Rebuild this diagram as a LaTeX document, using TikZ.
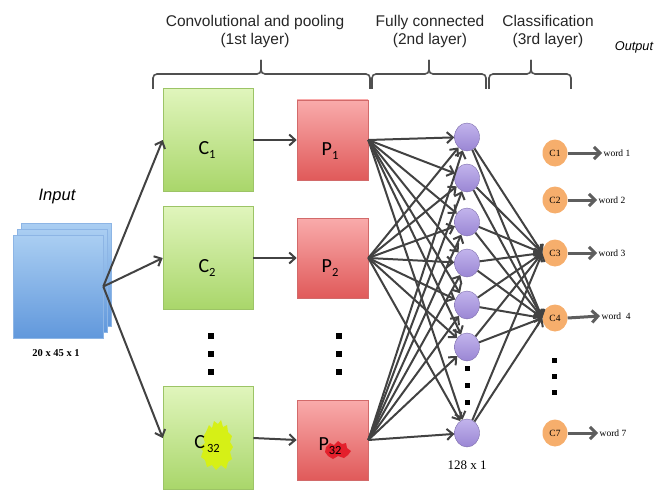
\documentclass[tikz,border=0pt]{standalone}
\usepackage{fontspec}
\setmainfont{Liberation Serif}
\setsansfont{Liberation Sans}
\newfontfamily\boxfont{Carlito}
\usetikzlibrary{arrows.meta,shapes.geometric}

\definecolor{wiregray}{HTML}{424242}
\definecolor{bracegray}{HTML}{505050}
\definecolor{greentop}{HTML}{E0F5BC}
\definecolor{greenbot}{HTML}{A9D66A}
\definecolor{greenrim}{HTML}{9CC466}
\definecolor{redtop}{HTML}{F9ABAB}
\definecolor{redbot}{HTML}{E05A5A}
\definecolor{redrim}{HTML}{D26A6A}
\definecolor{bluetop}{HTML}{AACEF2}
\definecolor{bluebot}{HTML}{6198DC}
\definecolor{bluerim}{HTML}{8DB5E5}
\definecolor{purptop}{HTML}{C2B4EC}
\definecolor{purpbot}{HTML}{9A86D4}
\definecolor{orangefill}{HTML}{F6AE6C}
\definecolor{scribyellow}{HTML}{D6F016}
\definecolor{scribred}{HTML}{E4202C}

\begin{document}
\begin{tikzpicture}[x=1pt,y=-1pt,
  hdr/.style={font=\sffamily\fontsize{15.5}{18}\selectfont, text=black!85, align=center},
  convbox/.style={draw=greenrim, line width=0.6pt, top color=greentop, bottom color=greenbot,
    minimum width=90pt, minimum height=103pt, inner sep=0pt},
  poolbox/.style={draw=redrim, line width=0.6pt, top color=redtop, bottom color=redbot,
    minimum width=71pt, minimum height=80pt, inner sep=0pt},
  inbox/.style={draw=bluerim, line width=0.6pt, top color=bluetop, bottom color=bluebot},
  boxlbl/.style={font=\boxfont\fontsize{20}{22}\selectfont, anchor=base, inner sep=0pt},
  hidden/.style={ellipse, draw=purpbot!80!black, line width=0.4pt, top color=purptop, bottom color=purpbot,
    minimum width=25pt, minimum height=28pt, inner sep=0pt},
  outnode/.style={ellipse, fill=orangefill, minimum width=25pt, minimum height=27pt, inner sep=0pt,
    font=\rmfamily\fontsize{9.5}{10}\selectfont},
  wordlbl/.style={font=\rmfamily\fontsize{9.5}{11}\selectfont, anchor=west, inner sep=1.5pt},
  wire/.style={draw=wiregray, line width=2pt, -{Straight Barb[length=6pt,width=11pt]}},
  outwire/.style={draw=wiregray!85, line width=3pt, -{Straight Barb[length=6pt,width=12pt]}},
  bracket/.style={draw=bracegray, line width=1.6pt, rounded corners=4pt},
  dotmark/.style={fill=black}
]
\useasboundingbox (0,0) rectangle (658,492);

% ---- headings and brackets
\node[hdr] (t1) at (255,31) {Convolutional and pooling\\(1st layer)};
\node[hdr] (t2) at (430,31) {Fully connected\\(2nd layer)};
\node[hdr] (t3) at (548,31) {Classification\\(3rd layer)};
\node[font=\sffamily\itshape\fontsize{12.7}{14}\selectfont] (outtitle) at (634,47) {Output};

\draw[bracket] (153,89) -- (153,74) -- (261,74) -- (261,60);
\draw[bracket] (370,89) -- (370,74) -- (261,74) -- (261,60);
\draw[bracket] (372,89) -- (372,74) -- (429,74) -- (429,60);
\draw[bracket] (486,89) -- (486,74) -- (429,74) -- (429,60);
\draw[bracket] (489,89) -- (489,74) -- (531,74) -- (531,60);
\draw[bracket] (571,89) -- (571,74) -- (531,74) -- (531,60);

% ---- input stack
\node[font=\sffamily\itshape\fontsize{16.5}{18}\selectfont] (intitle) at (57,197) {Input};
\draw[inbox] (21,223) rectangle (111,326);
\draw[inbox] (17,229) rectangle (107,332);
\node[inbox, minimum width=90pt, minimum height=103pt, inner sep=0pt] (inp) at (58,286.5) {};
\node[font=\rmfamily\bfseries\fontsize{10.5}{12}\selectfont] (insize) at (56,353) {20 x 45 x 1};

% ---- convolution and pooling maps
\node[convbox] (c1) at (208,140) {};
\node[convbox] (c2) at (208,258) {};
\node[convbox] (c32) at (208,438) {};
\node[poolbox] (p1) at (332.5,140) {};
\node[poolbox] (p2) at (332.5,258) {};
\node[poolbox] (p32) at (332.5,440) {};

% scribbled highlights behind the 32 subscripts
\fill[scribyellow] (206,432) -- (209,425) -- (212,428) -- (214,421) -- (218,424) -- (221,420)
  -- (223,427) -- (227,425) -- (228,432) -- (232,436) -- (230,442) -- (233,447) -- (230,452)
  -- (232,459) -- (228,462) -- (226,469) -- (221,465) -- (216,470) -- (212,465) -- (207,467)
  -- (205,460) -- (201,457) -- (203,451) -- (200,447) -- (205,443) -- (203,437) -- cycle;
\fill[scribred] (326,447) -- (330,443) -- (334,445) -- (338,441) -- (342,444) -- (346,443)
  -- (347,448) -- (351,451) -- (348,455) -- (344,458) -- (338,456) -- (333,459) -- (328,456)
  -- (325,452) -- cycle;

\node[boxlbl] (c1t) at (207,154) {C\raisebox{-4pt}{\fontsize{12.5}{13}\selectfont 1}};
\node[boxlbl] (c2t) at (207,272) {C\raisebox{-4pt}{\fontsize{12.5}{13}\selectfont 2}};
\node[boxlbl] (c32t) at (207,448) {C\raisebox{-4pt}{\fontsize{12.5}{13}\selectfont\,32}};
\node[boxlbl] (p1t) at (330,155) {P\raisebox{-4pt}{\fontsize{12.5}{13}\selectfont 1}};
\node[boxlbl] (p2t) at (330,272) {P\raisebox{-4pt}{\fontsize{12.5}{13}\selectfont 2}};
\node[boxlbl] (p32t) at (330,450) {P\raisebox{-4pt}{\fontsize{12.5}{13}\selectfont 32}};

\foreach \y in {333,351,369} {
  \fill[dotmark] (208,\y) rectangle ++(6,6);
  \fill[dotmark] (336,\y) rectangle ++(6,6);
}

% ---- fully connected layer
\foreach \i/\y in {1/137,2/178,3/222,4/263,5/305,6/347,7/433}
  \node[hidden] (h\i) at (467,\y) {};
\foreach \y in {366,383,400}
  \fill[dotmark] (465,\y) rectangle ++(5,5);
\node[font=\rmfamily\fontsize{13}{14}\selectfont] (hsize) at (467,465) {128 x 1};

% ---- classification layer
\node[outnode] (o1) at (555,153) {C1};
\node[outnode] (o2) at (555,200) {C2};
\node[outnode] (o3) at (555,253) {C3};
\node[outnode] (o4) at (555,318) {C4};
\node[outnode] (o7) at (555,433) {C7};
\foreach \y in {358,374,390}
  \fill[dotmark] (552,\y) rectangle ++(5,5);

\node[wordlbl] (w1) at (602,153) {word 1};
\node[wordlbl] (w2) at (597,200) {word 2};
\node[wordlbl] (w3) at (597,253) {word 3};
\node[wordlbl] (w4) at (600,316) {word\ \ 4};
\node[wordlbl] (w7) at (598,433) {word 7};

% ---- connectors
\draw[wire] (inp.east) -- (c1.west);
\draw[wire] (inp.east) -- (c2.west);
\draw[wire] (inp.east) -- (c32.west);
\draw[wire] (c1.east) -- (p1.west);
\draw[wire] (c2.east) -- (p2.west);
\draw[wire] (c32.east) -- (p32.west);

\foreach \p in {p1,p2,p32}
  \foreach \i in {1,...,7}
    \draw[wire] (\p.east) -- (h\i);

\foreach \i in {1,...,7} {
  \draw[wire] (h\i) -- (o3.west);
  \draw[wire] (h\i) -- (o4.west);
}

\draw[outwire] (o1.east) -- (w1.west);
\draw[outwire] (o2.east) -- (w2.west);
\draw[outwire] (o3.east) -- (w3.west);
\draw[outwire] (o4.east) -- (w4.west);
\draw[outwire] (o7.east) -- (w7.west);
\end{tikzpicture}
\end{document}
